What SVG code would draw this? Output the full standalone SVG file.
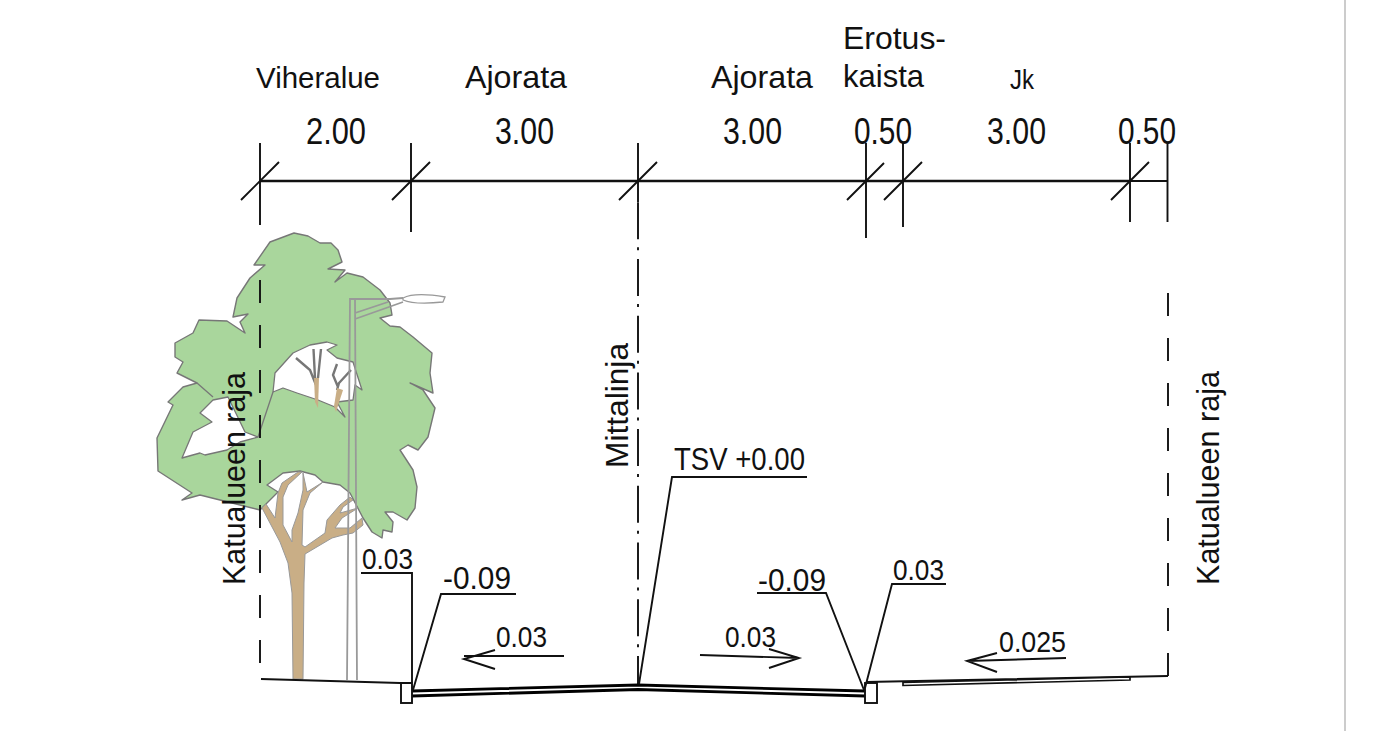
<svg xmlns="http://www.w3.org/2000/svg" width="1394" height="731" viewBox="0 0 1394 731">
<style>
text{font-family:"Liberation Sans",Arial,sans-serif;fill:#111}
.l{fill:none;stroke:#111;stroke-width:1.9}
.th{fill:none;stroke:#111;stroke-width:2.4}
.r{fill:none;stroke:#000;stroke-width:2.8}
.g{fill:none;stroke:#999;stroke-width:1.8}
.h{fill:#fff;stroke:#777;stroke-width:1.3;stroke-linejoin:round}
.b{fill:none;stroke:#777;stroke-width:2.4}
.t{fill:#c9ae86}
</style>
<rect width="1394" height="731" fill="#fff"/>
<line x1="1345" y1="0" x2="1345" y2="731" stroke="#bbb" stroke-width="1.5"/>
<g id="tree">
<path fill="#a9d69c" stroke="#777" stroke-width="1.4" stroke-linejoin="round" d="M294 233L308 236L320 243L331 243L338 250L342 262L328 269L345 270L335 282L347 273L363 277L380 290L390 303L392 315L380 318L390 326L400 327L413 337L432 353L430 373L433 393L410 383L423 390L435 408L428 437L418 450L408 445L400 450L413 470L417 487L415 508L407 520L393 512L385 512L393 522L392 532L383 530L382 538L372 532L363 518L350 493L340 485L323 482L315 475L300 471L283 473L267 485L278 492L263 507L260 510L200 495L182 500L192 493L158 471L157 438L173 405L168 402L183 387L197 383L177 373L183 362L175 357L175 343L193 333L199 320L227 321L245 333L240 322L248 314L233 317L237 298L250 278L265 265L254 265L270 242Z"/>
<path class="h" d="M182 458L193 432L212 422L200 413L213 400L228 397L245 432L258 437L240 442L227 450L205 455L200 453Z"/>
<path class="h" d="M273 392L275 373L293 353L310 345L327 342L337 345L327 350L337 358L353 362L362 390L355 385L353 400L337 402L345 417L335 407L318 400L297 393L283 388Z"/>
<path fill="none" stroke="#777" stroke-width="1.3" d="M197 383L213 397M258 437L273 392"/>
<path class="t" stroke="#999" stroke-width="1" stroke-linejoin="round" d="M293 679L292 593L288 563L280 542L262 508L266 504L275 518L278 493L282 483L298 472L302 472L288 485L283 497L283 525L292 542L292 530L298 513L303 490L303 473L307 492L323 482L310 493L303 510L302 545L305 547L325 533L327 520L340 505L350 497L353 500L343 507L340 513L358 508L342 518L335 528L350 528L362 518L363 525L353 533L343 535L332 538L305 554L304 583L303 679Z"/>
<path class="b" d="M296 358L310 370L316 385M313.500 349L315 378M321 349L318 378M337 364L333 375L338 387M351 370L339 383L337 390"/>
<path class="t" d="M314 378L319 378L318 408L315 402Z"/>
<path class="t" d="M337 388L343 390L336 412L334 406Z"/>
</g>
<g id="lamp">
<path class="g" d="M347 680L350 299H390L403 298M357 680L355 299M355 313L388 302M355 319L403 302"/>
<path d="M403 298Q415 292 445 297L443 302Q415 305 403 300Z" fill="#fff" stroke="#999" stroke-width="1.3"/>
</g>
<g id="connectors">
<path class="th" d="M260 181H1130"/>
<path class="l" d="M1130 181H1168"/>
<path class="l" d="M260 143V225M411 143V232M638 143V202M866 143V238M903 143V227M1130 143V222M1167.500 143V222"/>
<path class="l" d="M241 200L279 162M392 200L430 162M619 200L657 162M847 200L884 163M884 200L922 162M1111 200L1149 162"/>
<path class="l" stroke-dasharray="23 22" d="M260 280V664M1168 293V676"/>
<path class="l" stroke-dasharray="37 8 3 8.700" d="M638 202.300V684"/>
<path class="l" d="M261 679L400 683H412M866 682L1168 676"/>
<path class="r" d="M412 691L638 685L865 691M412 696L638 689.500L865 696"/>
<path d="M903 682.500L1130 677V680L903 685.500Z" fill="#fff" stroke="#111" stroke-width="1.7"/>
<rect class="l" x="401" y="683" width="11" height="20" fill="#fff"/>
<rect class="l" x="865" y="683" width="12" height="20" fill="#fff"/>
<path class="l" d="M361 573H412V683M516 594H441L413 690M807 477H672L639 684M757 593H826L864 690M946 584H892L865 688"/>
<path class="l" d="M564 656H464M495 650L464 659L495 669M700 655L799 658M769 649L799 658L769 668M1066 658L967 661M997 653L967 661L997 672"/>
</g>
<g id="labels">
<text x="256" y="88" font-size="29.500" textLength="124" lengthAdjust="spacingAndGlyphs">Viheralue</text>
<text x="465" y="88" font-size="32" textLength="102" lengthAdjust="spacingAndGlyphs">Ajorata</text>
<text x="711" y="88" font-size="32" textLength="102" lengthAdjust="spacingAndGlyphs">Ajorata</text>
<text x="843" y="49" font-size="32" textLength="103" lengthAdjust="spacingAndGlyphs">Erotus-</text>
<text x="843" y="87" font-size="32" textLength="81" lengthAdjust="spacingAndGlyphs">kaista</text>
<text x="1010" y="89" font-size="27" textLength="24" lengthAdjust="spacingAndGlyphs">Jk</text>
<text x="306" y="144" font-size="36" textLength="60" lengthAdjust="spacingAndGlyphs">2.00</text>
<text x="495" y="144" font-size="36" textLength="59" lengthAdjust="spacingAndGlyphs">3.00</text>
<text x="723" y="144" font-size="36" textLength="59" lengthAdjust="spacingAndGlyphs">3.00</text>
<text x="854" y="144" font-size="36" textLength="58" lengthAdjust="spacingAndGlyphs">0.50</text>
<text x="987" y="144" font-size="36" textLength="59" lengthAdjust="spacingAndGlyphs">3.00</text>
<text x="1118" y="144" font-size="36" textLength="58" lengthAdjust="spacingAndGlyphs">0.50</text>
<text transform="translate(245 585) rotate(-90)" font-size="32" textLength="213" lengthAdjust="spacingAndGlyphs">Katualueen raja</text>
<text transform="translate(1219 585) rotate(-90)" font-size="32" textLength="214" lengthAdjust="spacingAndGlyphs">Katualueen raja</text>
<text transform="translate(628 468) rotate(-90)" font-size="32" textLength="125" lengthAdjust="spacingAndGlyphs">Mittalinja</text>
<text x="674" y="470" font-size="31" textLength="131" lengthAdjust="spacingAndGlyphs">TSV +0.00</text>
<text x="362" y="569" font-size="30" textLength="51" lengthAdjust="spacingAndGlyphs">0.03</text>
<text x="443" y="589" font-size="31" textLength="68" lengthAdjust="spacingAndGlyphs">-0.09</text>
<text x="496" y="647" font-size="30" textLength="51" lengthAdjust="spacingAndGlyphs">0.03</text>
<text x="725" y="647" font-size="30" textLength="51" lengthAdjust="spacingAndGlyphs">0.03</text>
<text x="758" y="591" font-size="31" textLength="68" lengthAdjust="spacingAndGlyphs">-0.09</text>
<text x="893" y="580" font-size="30" textLength="51" lengthAdjust="spacingAndGlyphs">0.03</text>
<text x="999" y="652" font-size="30" textLength="67" lengthAdjust="spacingAndGlyphs">0.025</text>
</g>
</svg>
